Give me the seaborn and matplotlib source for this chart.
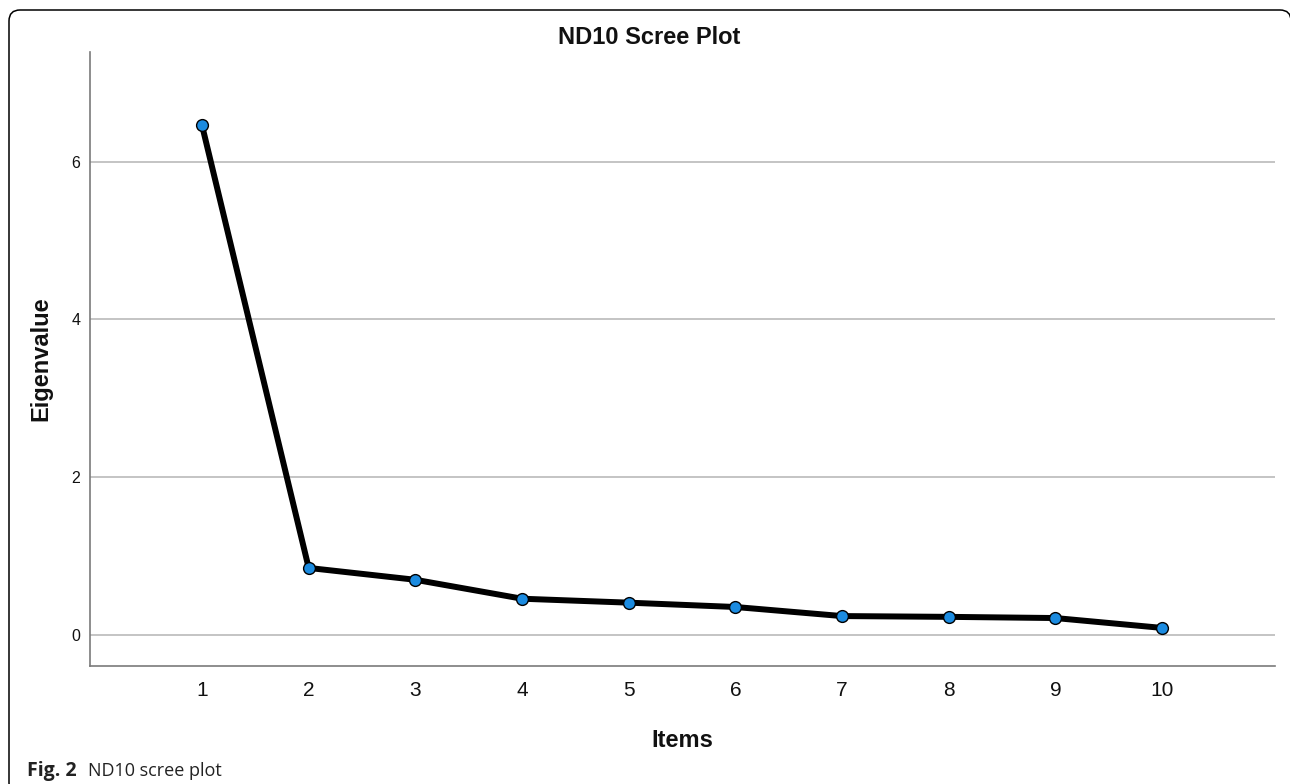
import matplotlib
matplotlib.use("Agg")
import matplotlib.pyplot as plt
import seaborn as sns
import pandas as pd
from matplotlib.patches import FancyBboxPatch

# Scree plot values
items = [1, 2, 3, 4, 5, 6, 7, 8, 9, 10]
eigenvalues = [6.46, 0.85, 0.70, 0.46, 0.41, 0.355, 0.24, 0.23, 0.215, 0.09]
y_ticks = [0, 2, 4, 6]

title = "ND10 Scree Plot"
x_label = "Items"
y_label = "Eigenvalue"
caption_bold = "Fig. 2"
caption_text = "ND10 scree plot"

sns.set_theme(style="white")
plt.rcParams["font.family"] = ["Liberation Sans", "DejaVu Sans"]

df = pd.DataFrame({"Items": items, "Eigenvalue": eigenvalues})

fig = plt.figure(figsize=(12.9, 7.84), dpi=100)
ax = fig.add_axes([0.0698, 0.1505, 0.9186, 0.7832])

# horizontal gridlines behind the line
ax.set_axisbelow(True)
ax.yaxis.grid(True, color="#b4b4b4", linewidth=1.1)
ax.xaxis.grid(False)

sns.lineplot(
    data=df,
    x="Items",
    y="Eigenvalue",
    color="black",
    linewidth=4.3,
    marker="o",
    markersize=8.5,
    markerfacecolor="#1b8be0",
    markeredgecolor="black",
    markeredgewidth=1.0,
    ax=ax,
    zorder=3,
)

ax.set_xlim(-0.05, 11.06)
ax.set_ylim(-0.393, 7.39)
ax.set_xticks(items)
ax.set_yticks(y_ticks)
ax.tick_params(axis="x", labelsize=15, pad=11, length=0, colors="#111111")
ax.tick_params(axis="y", labelsize=11.5, pad=7, length=0, colors="#111111")

for side in ["top", "right"]:
    ax.spines[side].set_visible(False)
for side in ["left", "bottom"]:
    ax.spines[side].set_color("#7a7a7a")
    ax.spines[side].set_linewidth(1.2)

ax.set_xlabel(x_label, fontsize=17, fontweight="bold", color="#111111")
ax.set_ylabel(y_label, fontsize=17, fontweight="bold", color="#111111")
ax.xaxis.set_label_coords(0.5, -0.102)
ax.yaxis.set_label_coords(-0.032, 0.5)

fig.text(649 / 1290, 1 - 37 / 784, title, ha="center", va="center",
         fontsize=17, fontweight="bold", color="#111111")

# caption under the chart
fig.text(27 / 1290, 1 - 776 / 784, caption_bold, ha="left", va="baseline",
         fontsize=14, fontweight="bold", family=["Open Sans", "DejaVu Sans"],
         color="#222222")
fig.text(88 / 1290, 1 - 776 / 784, caption_text, ha="left", va="baseline",
         fontsize=13, family=["Open Sans", "DejaVu Sans"], color="#222222")

# rounded frame around the figure (right edge falls just off the canvas)
frame = FancyBboxPatch(
    (9, -10), 1282, 784,
    boxstyle="round,pad=0,rounding_size=11",
    transform=None, facecolor="none", edgecolor="black", linewidth=1.1,
)
fig.add_artist(frame)

fig.savefig("out.png", dpi=100)
